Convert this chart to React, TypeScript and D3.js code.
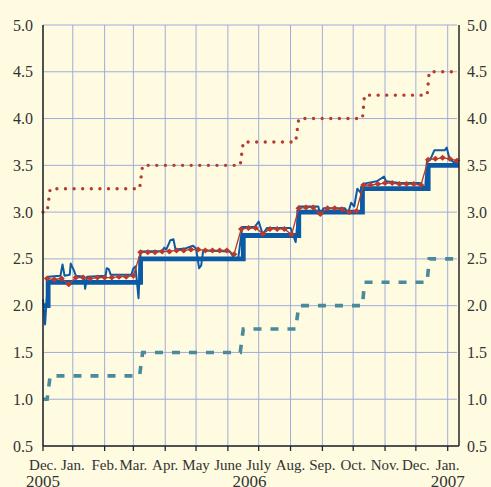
import React from "react";
import * as d3 from "d3";

const W = 491;
const H = 487;

const parse = d3.timeParse("%Y-%m-%d");

// axis
const yTicks = [0.5, 1.0, 1.5, 2.0, 2.5, 3.0, 3.5, 4.0, 4.5, 5.0];
const monthLabels = ["Dec.", "Jan.", "Feb.", "Mar.", "Apr.", "May", "June", "July", "Aug.", "Sep.", "Oct.", "Nov.", "Dec.", "Jan."];
const monthTickDates = ["2005-12-03", "2006-01-01", "2006-02-01", "2006-03-01", "2006-04-01", "2006-05-01", "2006-06-01", "2006-07-01", "2006-08-01", "2006-09-01", "2006-10-01", "2006-11-01", "2006-12-01", "2007-01-01"];
const yearLabels = ["2005", "2006", "2007"];
const yearLabelDates = ["2005-12-03", "2006-06-22", "2007-01-01"];

// marginal lending facility (dotted red)
const marginalLending: [string, number][] = [
  ["2005-12-03", 3.0], ["2005-12-07", 3.0], ["2005-12-10", 3.25],
  ["2006-03-07", 3.25], ["2006-03-10", 3.5],
  ["2006-06-13", 3.5], ["2006-06-16", 3.75],
  ["2006-08-06", 3.75], ["2006-08-09", 4.0],
  ["2006-10-10", 4.0], ["2006-10-12", 4.25],
  ["2006-12-12", 4.25], ["2006-12-14", 4.5],
  ["2007-01-12", 4.5],
];

// deposit facility (dashed teal)
const depositFacility: [string, number][] = [
  ["2005-12-03", 1.0], ["2005-12-07", 1.0], ["2005-12-10", 1.25],
  ["2006-03-07", 1.25], ["2006-03-10", 1.5],
  ["2006-06-13", 1.5], ["2006-06-16", 1.75],
  ["2006-08-06", 1.75], ["2006-08-09", 2.0],
  ["2006-10-10", 2.0], ["2006-10-12", 2.25],
  ["2006-12-12", 2.25], ["2006-12-14", 2.5],
  ["2007-01-12", 2.5],
];

// minimum bid rate (thick blue step)
const minimumBid: [string, number][] = [
  ["2005-12-03", 2.0], ["2005-12-08", 2.25], ["2006-03-08", 2.5],
  ["2006-06-16", 2.75], ["2006-08-09", 3.0], ["2006-10-10", 3.25],
  ["2006-12-13", 3.5], ["2007-01-12", 3.5],
];

// overnight rate (thin blue)
const overnight: [string, number][] = [
  ["2005-12-03", 2.07], ["2005-12-05", 1.8], ["2005-12-08", 2.31],
  ["2005-12-20", 2.32], ["2005-12-22", 2.44], ["2005-12-24", 2.32],
  ["2005-12-29", 2.33], ["2005-12-30", 2.45], ["2006-01-02", 2.38], ["2006-01-04", 2.32],
  ["2006-01-12", 2.31], ["2006-01-13", 2.18], ["2006-01-15", 2.31],
  ["2006-02-02", 2.32], ["2006-02-03", 2.4], ["2006-02-05", 2.39], ["2006-02-07", 2.33],
  ["2006-02-27", 2.33], ["2006-03-01", 2.4], ["2006-03-03", 2.42], ["2006-03-06", 2.08],
  ["2006-03-08", 2.58], ["2006-03-29", 2.585], ["2006-03-31", 2.62], ["2006-04-02", 2.6],
  ["2006-04-06", 2.7], ["2006-04-09", 2.71], ["2006-04-11", 2.6], ["2006-04-20", 2.61],
  ["2006-04-28", 2.64], ["2006-05-01", 2.61], ["2006-05-04", 2.4], ["2006-05-06", 2.43],
  ["2006-05-08", 2.59], ["2006-06-03", 2.58], ["2006-06-08", 2.49], ["2006-06-11", 2.5],
  ["2006-06-15", 2.84], ["2006-06-27", 2.84], ["2006-07-01", 2.9], ["2006-07-05", 2.76],
  ["2006-07-09", 2.83], ["2006-08-01", 2.83], ["2006-08-04", 2.74], ["2006-08-06", 2.68],
  ["2006-08-09", 3.06], ["2006-08-28", 3.06], ["2006-08-30", 2.97], ["2006-09-02", 3.04],
  ["2006-09-23", 3.04], ["2006-09-26", 2.99], ["2006-09-29", 3.1], ["2006-10-02", 3.06],
  ["2006-10-05", 3.25], ["2006-10-08", 3.21], ["2006-10-11", 3.3], ["2006-10-14", 3.31],
  ["2006-10-24", 3.33], ["2006-10-31", 3.38], ["2006-11-02", 3.33], ["2006-11-15", 3.31],
  ["2006-12-05", 3.31], ["2006-12-10", 3.25], ["2006-12-12", 3.56], ["2006-12-15", 3.56],
  ["2006-12-19", 3.66], ["2006-12-29", 3.66], ["2006-12-31", 3.69], ["2007-01-03", 3.56],
  ["2007-01-09", 3.52], ["2007-01-12", 3.52],
];

// weekly marginal rate of main refinancing operations (red diamonds), Wednesdays from 7 Dec 2005
const weeklyStart = "2005-12-07";
const weeklyMarginal = [
  2.29, 2.28, 2.29, 2.23, 2.3, 2.3, 2.29, 2.3, 2.3, 2.3, 2.31, 2.31, 2.32,
  2.57, 2.57, 2.57, 2.58, 2.58, 2.59, 2.59, 2.6, 2.6, 2.59, 2.59, 2.59, 2.59, 2.55,
  2.82, 2.83, 2.83, 2.77, 2.82, 2.82, 2.82, 2.76,
  3.04, 3.05, 3.05, 2.98, 3.04, 3.04, 3.03, 3.0, 3.01,
  3.29, 3.29, 3.3, 3.31, 3.31, 3.3, 3.3, 3.3, 3.29,
  3.56, 3.57, 3.58, 3.57, 3.55,
];

const BG = "#fefbe0";
const GRID = "#a2abd9";
const BLUE = "#0b5aa6";
const RED = "#b63a2f";
const TEAL = "#4a8a9c";
const AXIS = "#262626";
const TEXT = "#333333";
const FONT = "'Liberation Serif', 'Times New Roman', serif";

export default function App() {
  const left = 43, right = 459, top = 25, bottom = 446;
  const x = d3.scaleTime().domain([parse("2005-12-03")!, parse("2007-01-12")!]).range([left, right]);
  const y = d3.scaleLinear().domain([0.5, 5.0]).range([bottom, top]);

  const lineXY = d3.line<[Date, number]>().x((d) => x(d[0])).y((d) => y(d[1]));
  const stepLine = d3.line<[Date, number]>().x((d) => x(d[0])).y((d) => y(d[1])).curve(d3.curveStepAfter);
  const toPts = (arr: [string, number][]) => arr.map((d) => [parse(d[0])!, d[1]] as [Date, number]);

  const weeklyDates = d3.timeDay.range(parse(weeklyStart)!, parse("2007-01-12")!, 7);
  const weeklyPts = weeklyMarginal.map((v, i) => [weeklyDates[i], v] as [Date, number]);

  const monthX = monthTickDates.map((d) => x(parse(d)!));
  const gridRight = 457;

  const diamond = (cx: number, cy: number) =>
    `M${cx},${cy - 3}L${cx + 3.3},${cy}L${cx},${cy + 3}L${cx - 3.3},${cy}Z`;

  return (
    <svg width={W} height={H} style={{ position: "absolute", left: 0, top: 0, background: BG }}>
      <rect x={0} y={0} width={W} height={H} fill={BG} />
      {/* grid */}
      {yTicks.map((t) => (
        <line key={"gy" + t} x1={left} x2={gridRight} y1={y(t)} y2={y(t)} stroke={GRID} strokeWidth={1} />
      ))}
      {monthX.map((mx, i) => (
        <line key={"gx" + i} x1={mx} x2={mx} y1={top} y2={bottom} stroke={GRID} strokeWidth={1} />
      ))}
      {/* corridor */}
      <path d={lineXY(toPts(depositFacility))!} fill="none" stroke={TEAL} strokeWidth={3.6} strokeDasharray="8 9" />
      <path d={lineXY(toPts(marginalLending))!} fill="none" stroke={RED} strokeWidth={3.4} strokeDasharray="0 8.6" strokeLinecap="round" />
      {/* minimum bid */}
      <path d={stepLine(toPts(minimumBid))!} fill="none" stroke={BLUE} strokeWidth={4.8} />
      {/* overnight */}
      <path d={lineXY(toPts(overnight))!} fill="none" stroke={BLUE} strokeWidth={2} strokeLinejoin="round" />
      {/* weekly marginal */}
      <path d={lineXY(weeklyPts)!} fill="none" stroke={RED} strokeWidth={1.3} />
      {weeklyPts.map((d, i) => (
        <path key={"dm" + i} d={diamond(x(d[0]), y(d[1]))} fill={RED} />
      ))}
      {/* axes */}
      <line x1={left} x2={left} y1={top} y2={bottom} stroke={AXIS} strokeWidth={1.5} />
      <line x1={right} x2={right} y1={top} y2={bottom} stroke={AXIS} strokeWidth={1.5} />
      <line x1={left} x2={right} y1={bottom} y2={bottom} stroke={AXIS} strokeWidth={1.5} />
      {monthX.map((mx, i) => (
        <line key={"tk" + i} x1={mx} x2={mx} y1={bottom} y2={bottom + 5} stroke={AXIS} strokeWidth={1.3} />
      ))}
      {yTicks.map((t) => (
        <text key={"yl" + t} x={33} y={y(t)} dy="0.35em" textAnchor="end" fontFamily={FONT} fontSize={16} fill={TEXT}>
          {t.toFixed(1)}
        </text>
      ))}
      {yTicks.map((t) => (
        <text key={"yr" + t} x={467} y={y(t)} dy="0.35em" textAnchor="start" fontFamily={FONT} fontSize={16} fill={TEXT}>
          {t.toFixed(1)}
        </text>
      ))}
      {monthLabels.map((m, i) => (
        <text key={"ml" + i} x={monthX[i]} y={470} textAnchor="middle" fontFamily={FONT} fontSize={15} fill={TEXT}>
          {m}
        </text>
      ))}
      {yearLabels.map((yl, i) => (
        <text key={"yy" + i} x={x(parse(yearLabelDates[i])!)} y={487} textAnchor="middle" fontFamily={FONT} fontSize={17} fill={TEXT}>
          {yl}
        </text>
      ))}
    </svg>
  );
}
